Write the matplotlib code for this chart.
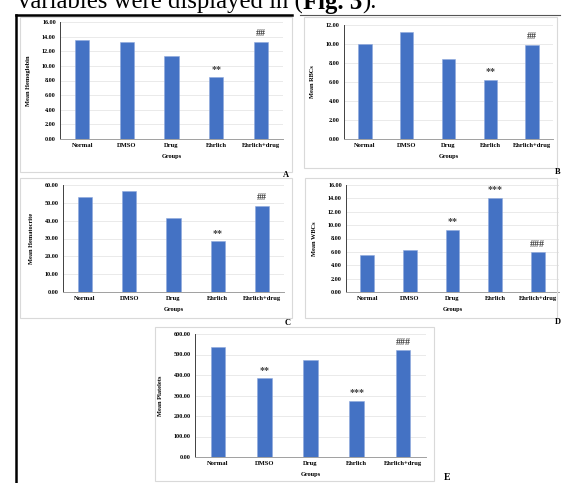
import matplotlib.pyplot as plt
import numpy as np
from matplotlib.patches import Rectangle

groups = ['Normal', 'DMSO', 'Drug', 'Ehrlich', 'Ehrlich+drug']

hemoglobin = [13.5, 13.3, 11.3, 8.45, 13.3]
rbcs = [10.0, 11.3, 8.45, 6.25, 9.9]
hematocrite = [53.5, 56.5, 41.5, 28.4, 48.4]
wbcs = [5.5, 6.3, 9.3, 14.1, 5.95]
platelets = [536, 383, 471, 274, 520]

marks_a = ['', '', '', '**', '##']
marks_b = ['', '', '', '**', '##']
marks_c = ['', '', '', '**', '##']
marks_d = ['', '', '**', '***', '###']
marks_e = ['', '**', '', '***', '###']

W, H = 562, 483
SERIF = 'Liberation Serif'
BAR = '#4472C4'

fig = plt.figure(figsize=(W / 100, H / 100), dpi=100)


def frac(l, t, r, b):
    return [l / W, 1 - b / H, (r - l) / W, (b - t) / H]


def box(l, t, r, b, color='#d9d9d9', lw=0.8):
    fig.patches.append(Rectangle((l / W, 1 - b / H), (r - l) / W, (b - t) / H,
                                 transform=fig.transFigure, fill=False,
                                 edgecolor=color, linewidth=lw))


def panel(rect, values, marks, ymax, step, ylabel, fmt='{:.2f}'):
    ax = fig.add_axes(frac(*rect))
    x = np.arange(len(groups))
    ax.bar(x, values, width=0.32, color=BAR, edgecolor='#8fa9dc', linewidth=0.4, zorder=3)
    ax.set_xlim(-0.5, len(groups) - 0.5)
    ax.set_ylim(0, ymax)
    ticks = np.arange(0, ymax + step / 2, step)
    ax.set_yticks(ticks)
    ax.set_yticklabels([fmt.format(t) for t in ticks], fontsize=4.4,
                       fontfamily=SERIF, fontweight='bold')
    ax.set_xticks(x)
    ax.set_xticklabels(groups, fontsize=4.7, fontfamily=SERIF, fontweight='bold')
    ax.tick_params(length=0, pad=3)
    ax.grid(axis='y', color='#e6e6e6', linewidth=0.6, zorder=0)
    for s in ['top', 'right']:
        ax.spines[s].set_visible(False)
    ax.spines['left'].set_color('#404040')
    ax.spines['left'].set_linewidth(0.7)
    ax.spines['bottom'].set_color('#a0a0a0')
    ax.spines['bottom'].set_linewidth(0.7)
    ax.set_xlabel('Groups', fontsize=4.6, fontfamily=SERIF, fontweight='bold', labelpad=4)
    ax.set_ylabel(ylabel, fontsize=4.6, fontfamily=SERIF, fontweight='bold', labelpad=8)
    for xi, v, m in zip(x, values, marks):
        if m:
            ax.annotate(m, (xi, v), xytext=(0, 2.5), textcoords='offset points',
                        ha='center', va='bottom', fontsize=7.2, fontfamily=SERIF,
                        fontweight='bold', color='#404040')
    return ax


# panel frames
box(20, 17, 292, 172)
box(304, 17, 557, 168)
box(20, 178, 292, 318)
box(305, 178, 557, 318)
box(155, 327, 434, 481)

# outer black frame lines
fig.add_artist(plt.Line2D([16 / W, 16 / W], [0, 1 - 15 / H], transform=fig.transFigure,
                          color='black', linewidth=1.8))
fig.add_artist(plt.Line2D([16 / W, 292 / W], [1 - 15 / H, 1 - 15 / H], transform=fig.transFigure,
                          color='black', linewidth=1.8))
fig.add_artist(plt.Line2D([300 / W, 560 / W], [1 - 15 / H, 1 - 15 / H], transform=fig.transFigure,
                          color='#555555', linewidth=0.8))

panel((60, 22, 283, 139), hemoglobin, marks_a, 16, 2, 'Mean Hemoglobin')
panel((344, 25, 553, 139), rbcs, marks_b, 12, 2, 'Mean RBCs')
panel((63, 185, 284, 292), hematocrite, marks_c, 60, 10, 'Mean Hematocrite')
panel((346, 185, 559, 292), wbcs, marks_d, 16, 2, 'Mean WBCs')
panel((195, 334, 426, 457), platelets, marks_e, 600, 100, 'Mean Platelets')

for lab, px, py, fs in [('A', 286, 175, 6), ('B', 558, 172, 6), ('C', 288, 323, 6),
                        ('D', 558, 322, 6), ('E', 447, 477, 7)]:
    fig.text(px / W, 1 - py / H, lab, fontsize=fs, fontfamily=SERIF, fontweight='bold',
             ha='center', va='center')

# header sentence, partially cut off at the top
renderer = fig.canvas.get_renderer()
xpos = 18 / W
ybase = 1 - 9 / H
for part, weight in [('variables were displayed in (', 'normal'), ('Fig. 3', 'bold'), (').', 'normal')]:
    t = fig.text(xpos, ybase, part, fontsize=17.8, fontfamily=SERIF, fontweight=weight,
                 va='baseline', ha='left')
    bb = t.get_window_extent(renderer=renderer)
    xpos = bb.x1 / fig.bbox.width

fig.savefig('out.png', dpi=100)
